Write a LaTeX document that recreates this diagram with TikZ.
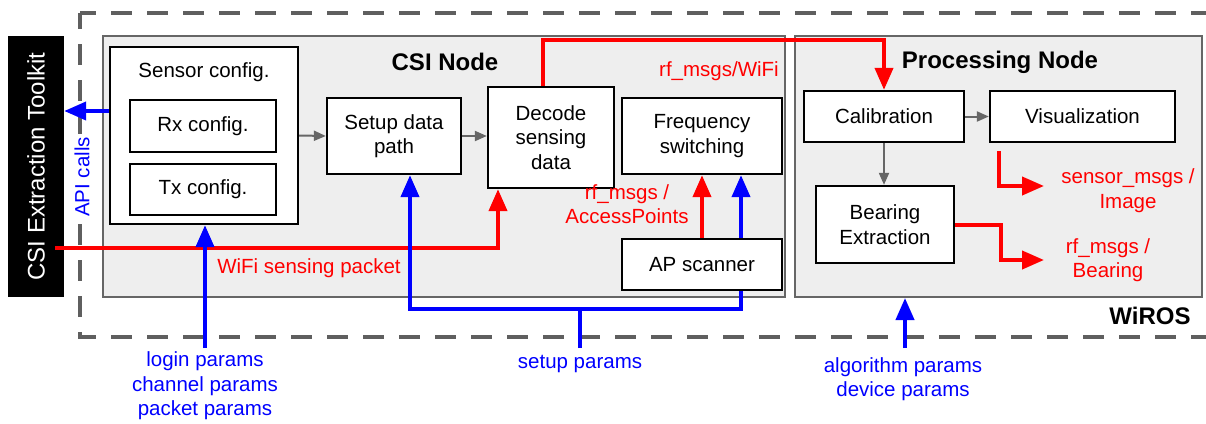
\documentclass[tikz,border=0pt]{standalone}
\usepackage{fontspec}
\setmainfont{Liberation Sans}
\usetikzlibrary{arrows.meta}
\definecolor{panelgray}{HTML}{EEEEEE}
\definecolor{edgegray}{HTML}{666666}
\definecolor{dashgray}{HTML}{5F5F5F}
\begin{document}
\begin{tikzpicture}[x=1pt, y=-1pt,
    every node/.style={font=\fontsize{20.5}{24.5}\selectfont, inner sep=0pt},
    blk/.style={draw=black, fill=white, line width=2.3pt, align=center},
    panel/.style={draw=edgegray, fill=panelgray, line width=2pt},
    headline/.style={font=\fontsize{24}{28}\selectfont\bfseries},
    redlbl/.style={text=red, align=center},
    bluelbl/.style={text=blue, align=center},
    redarr/.style={red, line width=4pt, -{Triangle[length=22pt,width=18pt]}},
    bluearr/.style={blue, line width=4pt, -{Triangle[length=22pt,width=18pt]}},
    blueline/.style={blue, line width=4pt},
    grayarr/.style={edgegray, line width=2pt, -{Triangle[length=12pt,width=10pt]}},
    frame/.style={dashgray, line width=4pt, dash pattern=on 21pt off 15pt, dash phase=5pt}]
  \useasboundingbox (0,0) rectangle (1206,423);
  \draw[frame] (80,13) -- (1230,13); % WiROS frame
  \draw[frame] (80,13) -- (80,337) -- (1230,337);
  \node[panel, minimum width=682pt, minimum height=261pt] (csi) at (444,166.5) {};
  \node[panel, minimum width=407pt, minimum height=261pt] (proc) at (998.5,166.5) {};
  \node[fill=black, minimum width=56pt, minimum height=261pt] (toolkit) at (36,166.5) {};
  \node[rotate=90, text=white, font=\fontsize{24}{28}\selectfont] (toolkittxt) at (toolkit) {CSI Extraction Toolkit};

  % CSI node
  \node[blk, minimum width=188pt, minimum height=177pt] (sensor) at (204,135.5) {};
  \node (sensortxt) at (204,72) {Sensor config.};
  \node[blk, minimum width=146pt, minimum height=52pt] (rx) at (203,126) {Rx config.};
  \node[blk, minimum width=146pt, minimum height=51pt] (tx) at (203,189.5) {Tx config.};
  \node[blk, minimum width=134pt, minimum height=76pt] (setup) at (394,136) {Setup data\\path};
  \node[blk, minimum width=126pt, minimum height=101pt] (decode) at (551,137.5) {Decode\\sensing\\data};
  \node[blk, minimum width=160pt, minimum height=76pt] (freq) at (702,136) {Frequency\\switching};
  \node[blk, minimum width=160pt, minimum height=51pt] (ap) at (702,264.5) {AP scanner};
  % processing node
  \node[blk, minimum width=160pt, minimum height=51pt] (calib) at (884,116.5) {Calibration};
  \node[blk, minimum width=185pt, minimum height=51pt] (vis) at (1082.5,116.5) {Visualization};
  \node[blk, minimum width=138pt, minimum height=77pt] (bearing) at (885,224.5) {Bearing\\Extraction};

  \node[headline] (csititle) at (445,62) {CSI Node};
  \node[headline] (proctitle) at (1000,62) {Processing Node};
  \node[headline] (wiros) at (1150,316) {WiROS};

  \node[redlbl] (wifitopic) at (719,71) {rf\_msgs/WiFi};
  \node[bluelbl, rotate=90, fill=white, inner sep=3pt] (apicalls) at (82,177) {API calls};
  \node[redlbl] (pktlbl) at (309,268) {WiFi sensing packet};
  \node[redlbl] (aptopic) at (627,204) {rf\_msgs /\\AccessPoints};
  \node[redlbl] (imgtopic) at (1128,190.5) {sensor\_msgs /\\Image};
  \node[redlbl] (brgtopic) at (1108,260) {rf\_msgs /\\Bearing};
  \node[bluelbl] (algparams) at (903,379) {algorithm params\\device params};
  \node[bluelbl] (loginparams) at (205,386) {login params\\channel params\\packet params};
  \node[bluelbl] (setupparams) at (580,364) {setup params};

  \coordinate (wifiin) at (55,248);
  \coordinate (loginin) at (205,348);
  \coordinate (setupin) at (580,348);
  \coordinate (setupbus) at (580,309);
  \coordinate (algin) at (905,348);
  \coordinate (imgout) at (1044,186);
  \coordinate (brgout) at (1044,260);
  \coordinate (apiout) at ([yshift=24.5pt]sensor.west);

  % data flow
  \draw[redarr] (wifiin) -| ([xshift=-53pt]decode.south);
  \draw[redarr] ([xshift=-8pt]decode.north) -- ++(0,-46) -| (calib.north);
  \draw[redarr] (ap.north) -- (freq.south);
  \draw[redarr] ([xshift=10pt,yshift=-8pt]vis.south west) |- (imgout);
  \draw[redarr] (bearing.east) -- ++(46,0) |- (brgout);
  % parameters
  \draw[bluearr] (apiout) -- (apiout -| toolkit.east);
  \draw[bluearr] (loginin) -- (loginin |- sensor.south);
  \draw[blueline] (setupin) -- (setupbus);
  \draw[bluearr] (setupbus) -| ([xshift=16pt]setup.south);
  \draw[blueline] (setupbus) -| ([xshift=39pt]ap.south);
  \draw[bluearr] ([xshift=39pt]ap.north) -- ([xshift=39pt]freq.south);
  \draw[bluearr] (algin) -- (algin |- proc.south);
  % internal steps
  \draw[grayarr] (sensor.east) -- (setup.west);
  \draw[grayarr] (setup.east) -- (setup.east -| decode.west);
  \draw[grayarr] (calib.east) -- (vis.west);
  \draw[grayarr] (calib.south) -- (calib.south |- bearing.north);
\end{tikzpicture}
\end{document}
